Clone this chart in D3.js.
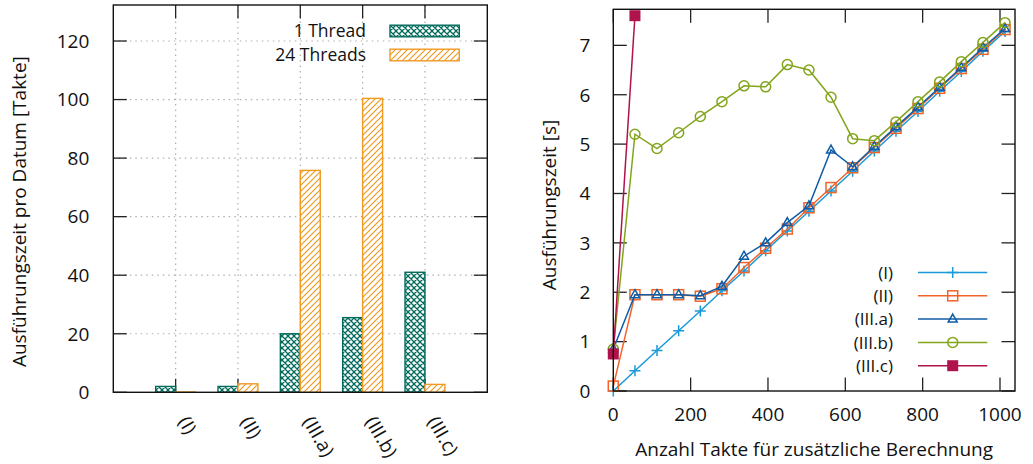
<!DOCTYPE html>
<html>
<head>
<meta charset="utf-8">
<script src="https://cdn.jsdelivr.net/npm/d3@7"></script>
<style>
  body { margin: 0; background: #fff; }
  svg { display: block; font-family: "Open Sans", Lato, sans-serif; }
</style>
</head>
<body>
<div id="chart"></div>
<script>
// ---- data: left chart (bars) ----
const categories = ["(I)", "(II)", "(III.a)", "(III.b)", "(III.c)"];
const oneThread = [2.0, 2.0, 20.0, 25.5, 41.0];
const twentyFourThreads = [0.1, 2.9, 75.8, 100.4, 2.7];
const barTicks = [0, 20, 40, 60, 80, 100, 120];

// ---- data: right chart (lines) ----
const takte = [0, 56, 113, 169, 225, 281, 338, 394, 450, 506, 563, 619, 675, 731, 788, 844, 900, 956, 1013];
const seriesI = [0, 0.41, 0.82, 1.22, 1.62, 2.03, 2.43, 2.84, 3.24, 3.64, 4.05, 4.45, 4.86, 5.26, 5.66, 6.07, 6.47, 6.88, 7.28];
const seriesII = [0.1, 1.95, 1.95, 1.95, 1.92, 2.07, 2.5, 2.89, 3.28, 3.71, 4.12, 4.52, 4.93, 5.32, 5.72, 6.13, 6.53, 6.92, 7.32];
const seriesIIIa = [0.85, 1.95, 1.95, 1.95, 1.93, 2.12, 2.73, 3.0, 3.41, 3.75, 4.88, 4.54, 4.95, 5.35, 5.75, 6.15, 6.55, 6.95, 7.34];
const seriesIIIb = [0.85, 5.2, 4.91, 5.23, 5.56, 5.86, 6.18, 6.16, 6.61, 6.5, 5.95, 5.11, 5.07, 5.45, 5.86, 6.26, 6.67, 7.06, 7.46];
const seriesIIIc = [0.75, 7.6];
const lineXTicks = [0, 200, 400, 600, 800, 1000];
const lineYTicks = [0, 1, 2, 3, 4, 5, 6, 7];

const W = 1033, H = 464;
const TICK = 13.5;
const FONT = 19;
const TITLE_FONT = 19;
const LEGEND_FONT = 17;

const svg = d3.select("#chart").append("svg")
  .attr("width", W)
  .attr("height", H);

const defs = svg.append("defs");

// crosshatch for 1 Thread
const teal = "#006b5b";
const orange = "#f09a22";
const cross = defs.append("pattern")
  .attr("id", "cross")
  .attr("patternUnits", "userSpaceOnUse")
  .attr("width", 6).attr("height", 6);
cross.append("rect").attr("width", 6).attr("height", 6).attr("fill", "#fff");
cross.append("path")
  .attr("d", "M0,0 L6,6 M6,0 L0,6 M-1,5 L1,7 M5,-1 L7,1 M-1,1 L1,-1 M5,7 L7,5")
  .attr("stroke", teal).attr("stroke-width", 1.3);

// diagonal hatch for 24 Threads
const hatch = defs.append("pattern")
  .attr("id", "hatch")
  .attr("patternUnits", "userSpaceOnUse")
  .attr("width", 6).attr("height", 6);
hatch.append("rect").attr("width", 6).attr("height", 6).attr("fill", "#fff");
hatch.append("path")
  .attr("d", "M0,6 L6,0 M-1,1 L1,-1 M5,7 L7,5")
  .attr("stroke", orange).attr("stroke-width", 1.2);

// ================= left chart =================
const LP = { left: 113.3, right: 487.3, top: 5, bottom: 392.3 };
const xL = d3.scaleLinear().domain([0, categories.length + 1]).range([LP.left, LP.right]);
const yL = d3.scaleLinear().domain([0, 132.3]).range([LP.bottom, LP.top]);
const BW = 0.32;

const left = svg.append("g");

// grid
left.append("g").selectAll("line.gy")
  .data(barTicks.filter(d => d > 0))
  .join("line")
  .attr("x1", LP.left).attr("x2", LP.right)
  .attr("y1", d => yL(d)).attr("y2", d => yL(d))
  .attr("stroke", "#b0b0b0").attr("stroke-width", 1.2)
  .attr("stroke-dasharray", "1.5,4");
left.append("g").selectAll("line.gx")
  .data(categories)
  .join("line")
  .attr("x1", (d, i) => xL(i + 1)).attr("x2", (d, i) => xL(i + 1))
  .attr("y1", LP.top).attr("y2", LP.bottom)
  .attr("stroke", "#b0b0b0").attr("stroke-width", 1.2)
  .attr("stroke-dasharray", "1.5,4");

// ticks (inward, mirrored)
const lt = left.append("g").attr("stroke", "#222").attr("stroke-width", 1.3);
barTicks.forEach(t => {
  lt.append("line").attr("x1", LP.left).attr("x2", LP.left + TICK).attr("y1", yL(t)).attr("y2", yL(t));
  lt.append("line").attr("x1", LP.right).attr("x2", LP.right - TICK).attr("y1", yL(t)).attr("y2", yL(t));
});
categories.forEach((c, i) => {
  lt.append("line").attr("x1", xL(i + 1)).attr("x2", xL(i + 1)).attr("y1", LP.bottom).attr("y2", LP.bottom - TICK);
  lt.append("line").attr("x1", xL(i + 1)).attr("x2", xL(i + 1)).attr("y1", LP.top).attr("y2", LP.top + TICK);
});

// bars
left.append("g").selectAll("rect")
  .data(oneThread)
  .join("rect")
  .attr("x", (d, i) => xL(i + 1 - BW))
  .attr("y", d => yL(d))
  .attr("width", xL(BW) - xL(0))
  .attr("height", d => yL(0) - yL(d))
  .attr("fill", "url(#cross)")
  .attr("stroke", teal).attr("stroke-width", 1.4);
left.append("g").selectAll("rect")
  .data(twentyFourThreads)
  .join("rect")
  .attr("x", (d, i) => xL(i + 1))
  .attr("y", d => yL(d))
  .attr("width", xL(BW) - xL(0))
  .attr("height", d => yL(0) - yL(d))
  .attr("fill", "url(#hatch)")
  .attr("stroke", orange).attr("stroke-width", 1.4);

// border
left.append("rect")
  .attr("x", LP.left).attr("y", LP.top)
  .attr("width", LP.right - LP.left).attr("height", LP.bottom - LP.top)
  .attr("fill", "none").attr("stroke", "#111").attr("stroke-width", 1.4);

// y tick labels
left.append("g").selectAll("text")
  .data(barTicks)
  .join("text")
  .attr("x", LP.left - 24)
  .attr("y", d => yL(d))
  .attr("dy", "0.36em")
  .attr("text-anchor", "end")
  .attr("font-size", FONT)
  .attr("fill", "#111")
  .text(d => d);

// x tick labels (rotated)
left.append("g").selectAll("text")
  .data(categories)
  .join("text")
  .attr("transform", (d, i) => `translate(${xL(i + 1) + 2},${LP.bottom + 29}) rotate(60)`)
  .attr("font-size", FONT)
  .attr("fill", "#111")
  .text(d => d);

// y label
left.append("text")
  .attr("transform", `translate(26,${(LP.top + LP.bottom) / 2 + 13}) rotate(-90)`)
  .attr("text-anchor", "middle")
  .attr("font-size", TITLE_FONT)
  .attr("fill", "#111")
  .text("Ausführungszeit pro Datum [Takte]");

// legend
const barLegend = [
  { label: "1 Thread", fill: "url(#cross)", stroke: teal },
  { label: "24 Threads", fill: "url(#hatch)", stroke: orange }
];
const bl = left.append("g").selectAll("g")
  .data(barLegend)
  .join("g")
  .attr("transform", (d, i) => `translate(0,${31 + i * 24})`);
bl.append("text")
  .attr("x", 366).attr("y", 0).attr("dy", "0.36em")
  .attr("text-anchor", "end")
  .attr("font-size", 17.5).attr("fill", "#111")
  .text(d => d.label);
bl.append("rect")
  .attr("x", 390).attr("y", -5.8)
  .attr("width", 69.3).attr("height", 11.6)
  .attr("fill", d => d.fill)
  .attr("stroke", d => d.stroke).attr("stroke-width", 1.4);

// ================= right chart =================
const RP = { left: 613.3, right: 1015, top: 9.3, bottom: 391 };
const xR = d3.scaleLinear().domain([0, 1038.8]).range([RP.left, RP.right]);
const yR = d3.scaleLinear().domain([0, 7.73]).range([RP.bottom, RP.top]);

const right = svg.append("g");

const rt = right.append("g").attr("stroke", "#222").attr("stroke-width", 1.3);
lineYTicks.forEach(t => {
  rt.append("line").attr("x1", RP.left).attr("x2", RP.left + TICK).attr("y1", yR(t)).attr("y2", yR(t));
  rt.append("line").attr("x1", RP.right).attr("x2", RP.right - TICK).attr("y1", yR(t)).attr("y2", yR(t));
});
lineXTicks.forEach(t => {
  rt.append("line").attr("x1", xR(t)).attr("x2", xR(t)).attr("y1", RP.bottom).attr("y2", RP.bottom - TICK);
  rt.append("line").attr("x1", xR(t)).attr("x2", xR(t)).attr("y1", RP.top).attr("y2", RP.top + TICK);
});

right.append("g").selectAll("text")
  .data(lineYTicks)
  .join("text")
  .attr("x", RP.left - 23)
  .attr("y", d => yR(d))
  .attr("dy", "0.36em")
  .attr("text-anchor", "end")
  .attr("font-size", FONT).attr("fill", "#111")
  .text(d => d);
right.append("g").selectAll("text")
  .data(lineXTicks)
  .join("text")
  .attr("x", d => xR(d))
  .attr("y", RP.bottom + 23)
  .attr("dy", "0.36em")
  .attr("text-anchor", "middle")
  .attr("font-size", FONT).attr("fill", "#111")
  .text(d => d);

right.append("text")
  .attr("x", (RP.left + RP.right) / 2).attr("y", 456)
  .attr("text-anchor", "middle")
  .attr("font-size", TITLE_FONT).attr("fill", "#111")
  .text("Anzahl Takte für zusätzliche Berechnung");
right.append("text")
  .attr("transform", `translate(556,205) rotate(-90)`)
  .attr("text-anchor", "middle")
  .attr("font-size", TITLE_FONT).attr("fill", "#111")
  .text("Ausführungszeit [s]");

// marker drawing
function drawMarker(g, type, color) {
  if (type === "plus") {
    g.append("path").attr("d", "M-5.5,0 H5.5 M0,-5.5 V5.5")
      .attr("stroke", color).attr("stroke-width", 1.5).attr("fill", "none");
  } else if (type === "square") {
    g.append("rect").attr("x", -5).attr("y", -5).attr("width", 10).attr("height", 10)
      .attr("stroke", color).attr("stroke-width", 1.5).attr("fill", "none");
  } else if (type === "triangle") {
    g.append("path").attr("d", "M0,-5 L4.5,3 L-4.5,3 Z")
      .attr("stroke", color).attr("stroke-width", 1.5).attr("fill", "none");
  } else if (type === "circle") {
    g.append("circle").attr("r", 5)
      .attr("stroke", color).attr("stroke-width", 1.5).attr("fill", "none");
  } else if (type === "fsquare") {
    g.append("rect").attr("x", -5.5).attr("y", -5.5).attr("width", 11).attr("height", 11)
      .attr("fill", color);
  }
}

const series = [
  { label: "(I)", values: seriesI, color: "#1a9ad8", marker: "plus" },
  { label: "(II)", values: seriesII, color: "#f0642a", marker: "square" },
  { label: "(III.a)", values: seriesIIIa, color: "#0f5ca6", marker: "triangle" },
  { label: "(III.b)", values: seriesIIIb, color: "#82a51c", marker: "circle" },
  { label: "(III.c)", values: seriesIIIc, color: "#b0124c", marker: "fsquare" }
];

const line = d3.line()
  .x(d => xR(d[0]))
  .y(d => yR(d[1]));

series.forEach(s => {
  const pts = s.values.map((v, i) => [takte[i], v]);
  const sg = right.append("g");
  sg.append("path")
    .attr("d", line(pts))
    .attr("fill", "none")
    .attr("stroke", s.color).attr("stroke-width", 1.5);
  pts.forEach(p => {
    drawMarker(sg.append("g").attr("transform", `translate(${xR(p[0])},${yR(p[1])})`), s.marker, s.color);
  });
});

// legend
series.forEach((s, i) => {
  const y = 272.5 + i * 23.3;
  right.append("text")
    .attr("x", 893).attr("y", y).attr("dy", "0.36em")
    .attr("text-anchor", "end")
    .attr("font-size", LEGEND_FONT).attr("fill", "#111")
    .text(s.label);
  right.append("line")
    .attr("x1", 918).attr("x2", 987.3).attr("y1", y).attr("y2", y)
    .attr("stroke", s.color).attr("stroke-width", 1.5);
  drawMarker(right.append("g").attr("transform", `translate(952.7,${y})`), s.marker, s.color);
});

right.append("rect")
  .attr("x", RP.left).attr("y", RP.top)
  .attr("width", RP.right - RP.left).attr("height", RP.bottom - RP.top)
  .attr("fill", "none").attr("stroke", "#111").attr("stroke-width", 1.4);
</script>
</body>
</html>
